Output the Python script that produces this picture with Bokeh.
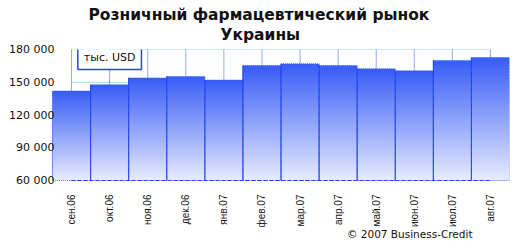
from bokeh.plotting import figure
from bokeh.embed import file_html
from bokeh.resources import INLINE
from bokeh.models import FixedTicker, Label, Title, Range1d
import numpy as np

title_lines = ["Розничный фармацевтический рынок", "Украины"]
months = ["сен.06", "окт.06", "ноя.06", "дек.06", "янв.07", "фев.07",
          "мар.07", "апр.07", "май.07", "июн.07", "июл.07", "авг.07"]
sales = [142000, 147700, 154000, 155300, 152000, 165300,
         166900, 165300, 162300, 160500, 170000, 172700]
y_ticks = [60000, 90000, 120000, 150000, 180000]
y_tick_labels = ["60 000", "90 000", "120 000", "150 000", "180 000"]
grid_levels = [150000, 180000]
base = 60000

FONT = "DejaVu Sans"

p = figure(width=523, height=251, output_backend="svg", toolbar_location=None,
           title=None,
           x_range=Range1d(-0.5, 11.5), y_range=Range1d(59084, 180000),
           min_border_left=52, min_border_right=14, min_border_top=49,
           min_border_bottom=70, outline_line_color=None,
           background_fill_color="white", border_fill_color="white")

# titles (closest to frame first)
for txt, so, off in [(title_lines[1], 11, 168), (title_lines[0], -11, 36)]:
    t = Title(text=txt, align="left", offset=off, text_font=FONT,
              text_font_size="15.5px", text_font_style="bold",
              text_color="#111111", standoff=so)
    p.add_layout(t, "above")

p.xgrid.visible = False
p.ygrid.visible = False

n = len(months)
idx = np.arange(n)

# grid behind bars
p.segment(x0=[0] * len(grid_levels), x1=[n - 1] * len(grid_levels),
          y0=grid_levels, y1=grid_levels, line_color="#33c6e8",
          line_dash="1 1", line_width=1)
p.segment(x0=idx, x1=idx, y0=[base] * n, y1=[grid_levels[-1]] * n,
          line_color="#2a4ef0", line_dash="1 1", line_width=1)

# gradient bars
K = 40
top_rgb = np.array([55, 92, 246])
bot_rgb = np.array([232, 236, 253])
lefts, rights, bottoms, tops, colors = [], [], [], [], []
for i, v in enumerate(sales):
    edges = np.linspace(base, v, K + 1)
    step = (v - base) / K
    for k in range(K):
        t = (k + 0.5) / K
        c = bot_rgb + (top_rgb - bot_rgb) * t
        lefts.append(i - 0.5)
        rights.append(i + 0.5)
        bottoms.append(edges[k])
        tops.append(min(edges[k + 1] + 0.6 * step, v))
        colors.append("#%02x%02x%02x" % tuple(int(round(x)) for x in c))
p.quad(left=lefts, right=rights, bottom=bottoms, top=tops,
       fill_color=colors, line_color=None)
p.quad(left=idx - 0.5, right=idx + 0.5, bottom=[base] * n, top=sales,
       fill_color=None, line_color="#3355ee", line_dash="1 1", line_width=1,
       line_alpha=0.8)
p.segment(x0=idx - 0.5, x1=idx - 0.5, y0=[base] * n, y1=sales,
          line_color="#2244ee", line_width=1)
p.segment(x0=[0], x1=[n - 1], y0=[base], y1=[base],
          line_color="#2244ee", line_dash="4 2", line_width=1)

# unit label box
unit = Label(x=1, y=173100, text="тыс. USD", text_align="center",
             text_baseline="middle", text_font=FONT, text_font_size="11px",
             text_color="#111111", background_fill_color="white",
             border_line_color="#2244ee", border_line_width=1.5,
             padding=6)
p.add_layout(unit)

# axes
p.yaxis.ticker = FixedTicker(ticks=y_ticks)
p.yaxis.major_label_overrides = dict(zip(y_ticks, y_tick_labels))
p.yaxis.axis_line_color = None
p.yaxis.major_tick_line_color = None
p.yaxis.minor_tick_line_color = None
p.yaxis.major_label_standoff = -8
p.yaxis.major_label_text_font = FONT
p.yaxis.major_label_text_font_size = "11px"
p.yaxis.major_label_text_color = "#111111"

p.xaxis.ticker = FixedTicker(ticks=list(idx))
p.xaxis.major_label_overrides = {int(i): m for i, m in zip(idx, months)}
p.xaxis.major_label_orientation = np.pi / 2
p.xaxis.axis_line_color = None
p.xaxis.major_tick_line_color = None
p.xaxis.minor_tick_line_color = None
p.xaxis.major_label_standoff = 7
p.xaxis.major_label_text_font = "Liberation Sans"
p.xaxis.major_label_text_font_size = "10px"
p.xaxis.major_label_text_color = "#111111"

credit = Title(text="© 2007 Business-Credit", align="right", offset=37,
               text_font=FONT, text_font_size="10.5px", text_font_style="normal",
               text_color="#111111", standoff=-5, vertical_align="top")
p.add_layout(credit, "below")

open("out.html", "w").write(file_html(p, INLINE))
